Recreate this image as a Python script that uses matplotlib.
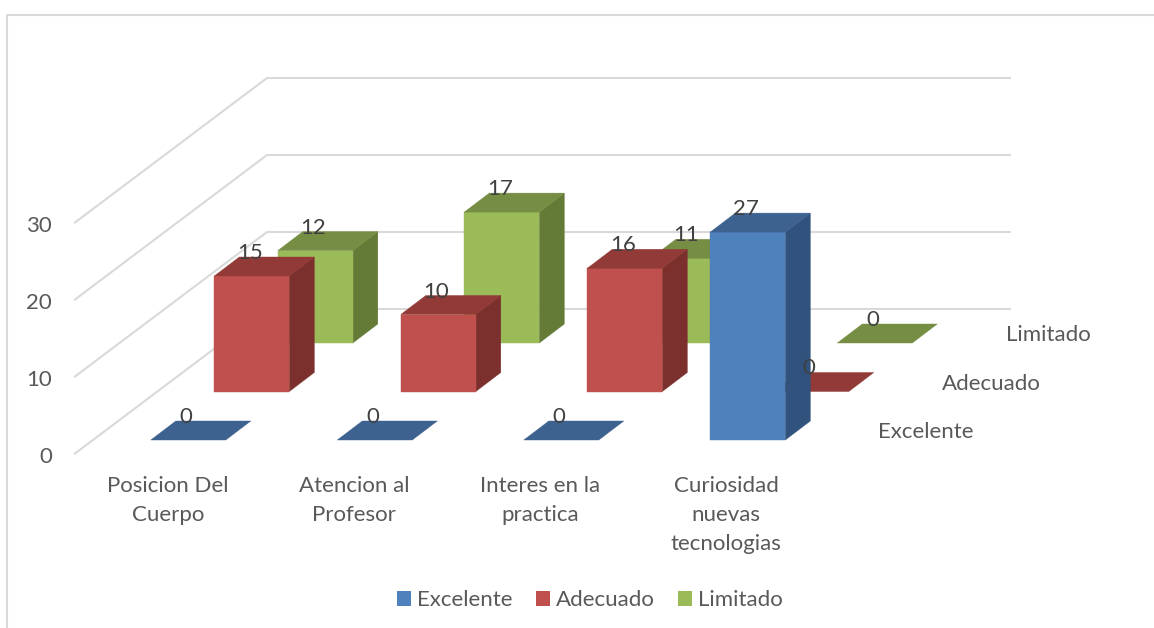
# 3d style column chart, drawn on a plain axes with an oblique projection
import matplotlib
matplotlib.use('Agg')
import matplotlib.pyplot as plt
from matplotlib.patches import Polygon, Patch

plt.rcParams['font.family'] = ['Lato', 'DejaVu Sans']

categories = ['Posicion Del\nCuerpo', 'Atencion al\nProfesor', 'Interes en la\npractica', 'Curiosidad\nnuevas\ntecnologias']
series = ['Excelente', 'Adecuado', 'Limitado']
excelente = [0, 0, 0, 27]
adecuado = [15, 10, 16, 0]
limitado = [12, 17, 11, 0]
y_ticks = [0, 10, 20, 30]

front_cols = ['#4F81BD', '#C0504D', '#9BBB59']
top_cols = ['#3D628F', '#923A37', '#768E43']
side_cols = ['#31527C', '#7C302E', '#647A37']

# projection (canvas is in pixels, y down)
X0, Y0 = 150.8, 440.0     # front left corner of first bar
CAT_STEP = 186.5
DEPTH_DX, DEPTH_DY = 63.5, -48.5
UNIT = 7.7
BAR_W = 75.0
BAR_DX, BAR_DY = 25.0, -19.0
FS = 16

def proj(cat, depth, val):
    return (X0 + cat * CAT_STEP + depth * DEPTH_DX,
            Y0 + depth * DEPTH_DY - val * UNIT)

fig = plt.figure(figsize=(11.54, 6.28), dpi=100)
ax = fig.add_axes([0, 0, 1, 1])
ax.set_xlim(0, 1154)
ax.set_ylim(628, 0)
ax.axis('off')

GRID = '#D9D9D9'
# chart frame: only left and top show
ax.plot([6.5, 6.5, 1154], [628, 14.5, 14.5], color=GRID, lw=1.5, zorder=1)

# gridlines on side wall and back wall
for t in y_ticks:
    ax.plot([75, 267, 1010], [453.5 - t * UNIT, 309 - t * UNIT, 309 - t * UNIT],
            color=GRID, lw=1.5, zorder=1)
    ax.text(52, 457 - t * UNIT, str(t), ha='right', va='center', fontsize=FS, color='#595959')

# back to front
z = 2
all_vals = [excelente, adecuado, limitado]
for d in [2, 1, 0]:
    for c, v in enumerate(all_vals[d]):
        xl, yb = proj(c, d, 0)
        xl, yt = proj(c, d, v)
        xr = xl + BAR_W
        if v > 0:
            ax.add_patch(Polygon([(xr, yb), (xr + BAR_DX, yb + BAR_DY), (xr + BAR_DX, yt + BAR_DY), (xr, yt)],
                                 fc=side_cols[d], ec=side_cols[d], lw=0.3, zorder=z))
            ax.add_patch(Polygon([(xl, yb), (xr, yb), (xr, yt), (xl, yt)],
                                 fc=front_cols[d], ec=front_cols[d], lw=0.3, zorder=z))
        ax.add_patch(Polygon([(xl, yt), (xr, yt), (xr + BAR_DX, yt + BAR_DY), (xl + BAR_DX, yt + BAR_DY)],
                             fc=top_cols[d], ec=top_cols[d], lw=0.3, zorder=z))
        ax.text(xl + 35.5, yt - 23, str(v), ha='center', va='center', fontsize=FS, color='#404040', zorder=10)
    z += 1

# category labels
for c, lab in enumerate(categories):
    ax.text(168 + c * CAT_STEP - c * 0.5, 476, lab, ha='center', va='top', fontsize=FS,
            color='#595959', linespacing=1.55, zorder=10)

# depth axis labels
for d, s in enumerate(series):
    ax.text(878.5 + d * DEPTH_DX, 431 + d * DEPTH_DY + 1, s, ha='left', va='center', fontsize=FS, color='#595959')

handles = [Patch(fc=front_cols[i], ec='none', label=series[i]) for i in range(3)]
ax.legend(handles=handles, loc='center', bbox_to_anchor=(590 / 1154, 1 - 600.5 / 628), ncol=3,
          frameon=False, fontsize=FS, labelcolor='#595959', handlelength=0.63, handleheight=0.63,
          handletextpad=0.27, columnspacing=1.05)

fig.savefig('out.png', dpi=100)
